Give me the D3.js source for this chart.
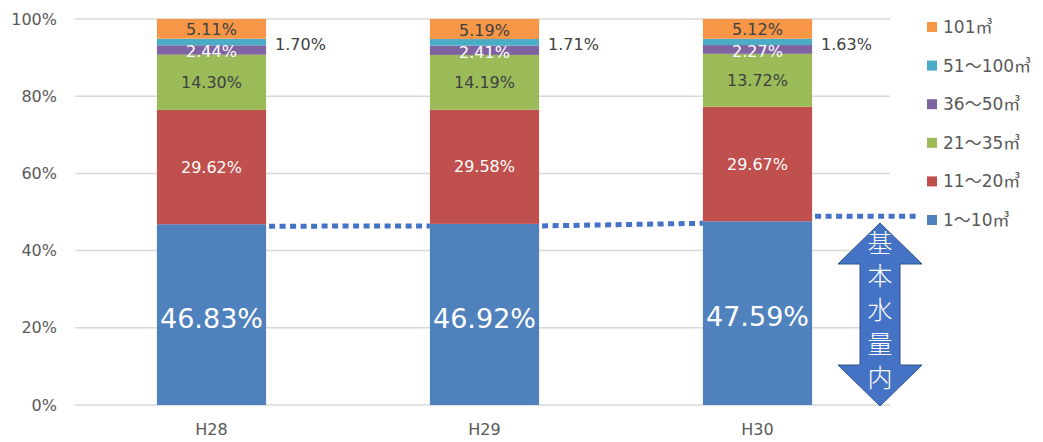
<!DOCTYPE html>
<html><head><meta charset="utf-8">
<script src="https://cdn.jsdelivr.net/npm/d3@7"></script>
<style>
body{margin:0;background:#fff;}
text{font-family:"DejaVu Sans","Noto Sans CJK JP",sans-serif;}
</style></head>
<body><svg id="c" width="1043" height="442"></svg>
<script>
const categories = ["H28","H29","H30"];
const seriesNames = ["1～10㎥","11～20㎥","21～35㎥","36～50㎥","51～100㎥","101㎥"];
const colors = ["#4F81BD","#C0504D","#9BBB59","#8064A2","#4BACC6","#F79646"];
const v1_10   = [46.83, 46.92, 47.59];
const v11_20  = [29.62, 29.58, 29.67];
const v21_35  = [14.30, 14.19, 13.72];
const v36_50  = [2.44, 2.41, 2.27];
const v51_100 = [1.70, 1.71, 1.63];
const v101    = [5.11, 5.19, 5.12];
const yTicks = [0,20,40,60,80,100];
const arrowLabel = "基本水量内";

(function(){
const FONT = '"DejaVu Sans","Noto Sans CJK JP",sans-serif';
const seriesVals = [v1_10, v11_20, v21_35, v36_50, v51_100, v101];
const rows = categories.map((c,i)=>{const o={cat:c}; seriesNames.forEach((s,j)=>o[s]=seriesVals[j][i]); return o;});
const stacked = d3.stack().keys(seriesNames)(rows);

const svg = d3.select("#c");
const x = d3.scaleBand().domain(categories).range([75,894]).paddingInner(0.6).paddingOuter(0.3);
const y = d3.scaleLinear().domain([0,100]).range([405,19]);

// gridlines
svg.append("g").selectAll("line").data(yTicks).join("line")
  .attr("x1",75).attr("x2",890).attr("y1",d=>y(d)).attr("y2",d=>y(d))
  .attr("stroke","#D9D9D9").attr("stroke-width",1.5);

// y axis
const ya = svg.append("g").attr("transform","translate(75,0)")
  .call(d3.axisLeft(y).tickValues(yTicks).tickFormat(d=>d+"%").tickSize(0).tickPadding(18));
ya.select(".domain").remove();
ya.selectAll("text").attr("font-size",16).attr("fill","#595959").attr("font-family",FONT);

// x axis
const xa = svg.append("g").attr("transform","translate(0,405)")
  .call(d3.axisBottom(x).tickSize(0).tickPadding(19));
xa.select(".domain").remove();
xa.selectAll("text").attr("font-size",16).attr("fill","#595959").attr("font-family",FONT);

// bars
const layers = svg.append("g").selectAll("g").data(stacked).join("g").attr("fill",(d,i)=>colors[i]);
layers.selectAll("rect").data(d=>d).join("rect")
  .attr("x",d=>x(d.data.cat)).attr("width",x.bandwidth())
  .attr("y",d=>y(d[1])).attr("height",d=>y(d[0])-y(d[1]));

// series lines for first series
const sl = [];
for(let i=0;i<categories.length-1;i++){
  sl.push([x(categories[i])+x.bandwidth(), y(v1_10[i])+2, x(categories[i+1]), y(v1_10[i+1])+2]);
}
const last = categories.length-1;
sl.push([x(categories[last])+x.bandwidth(), y(v1_10[last])-5, 918, y(v1_10[last])-5]);
svg.append("g").selectAll("line").data(sl).join("line")
  .attr("x1",d=>d[0]+3).attr("y1",d=>d[1]).attr("x2",d=>d[2]).attr("y2",d=>d[3])
  .attr("stroke","#4472C4").attr("stroke-width",5).attr("stroke-dasharray","6,4.5");

// labels
const labelStyle = [
  {size:27, fill:"#fff"},
  {size:16, fill:"#fff"},
  {size:16, fill:"#404040"},
  {size:16, fill:"#fff"},
  null,
  {size:16, fill:"#404040"}
];
stacked.forEach((layer,j)=>{
  const st = labelStyle[j];
  const g = svg.append("g");
  if(st){
    g.selectAll("text").data(layer).join("text")
      .attr("x",d=>x(d.data.cat)+x.bandwidth()/2)
      .attr("y",d=>j===0? y(d[1]) + (y(d[0])-y(d[1]))*0.52 : (y(d[0])+y(d[1]))/2 + (j===3?2:(j===5?1:0)))
      .attr("text-anchor","middle").attr("dominant-baseline","central")
      .attr("font-size",st.size).attr("fill",st.fill).attr("font-family",FONT)
      .text(d=>(d[1]-d[0]).toFixed(2)+"%");
  } else {
    g.selectAll("text").data(layer).join("text")
      .attr("x",d=>x(d.data.cat)+x.bandwidth()+9)
      .attr("y",44)
      .attr("dominant-baseline","central")
      .attr("font-size",16).attr("fill","#404040").attr("font-family",FONT)
      .text(d=>(d[1]-d[0]).toFixed(2)+"%");
  }
});

// legend (reverse order)
const leg = svg.append("g");
const legItems = seriesNames.map((s,i)=>({s,c:colors[i]})).reverse();
legItems.forEach((d,i)=>{
  const cy = 27 + i*38.6;
  leg.append("rect").attr("x",927).attr("y",cy-5).attr("width",10).attr("height",10).attr("fill",d.c);
  leg.append("text").attr("x",943).attr("y",cy).attr("dominant-baseline","central")
    .attr("font-size",17).attr("fill","#595959").attr("font-family",FONT).text(d.s);
});

// double arrow
const ax = 880, aTop = 223, aBot = 406, hw = 42, sw = 20, hh = 41;
const pts = [[ax,aTop],[ax+hw,aTop+hh],[ax+sw,aTop+hh],[ax+sw,aBot-hh],[ax+hw,aBot-hh],[ax,aBot],[ax-hw,aBot-hh],[ax-sw,aBot-hh],[ax-sw,aTop+hh],[ax-hw,aTop+hh]];
svg.append("path").attr("d",d3.line()(pts)+"Z").attr("fill","#4472C4").attr("stroke","#2F528F").attr("stroke-width",1);
arrowLabel.split("").forEach((ch,i)=>{
  svg.append("text").attr("x",ax).attr("y",243+i*33.8).attr("text-anchor","middle").attr("dominant-baseline","central")
    .attr("font-size",25).attr("font-weight",300).attr("fill","#fff").attr("font-family",'"Noto Sans CJK JP",sans-serif').text(ch);
});
})();
</script></body></html>
